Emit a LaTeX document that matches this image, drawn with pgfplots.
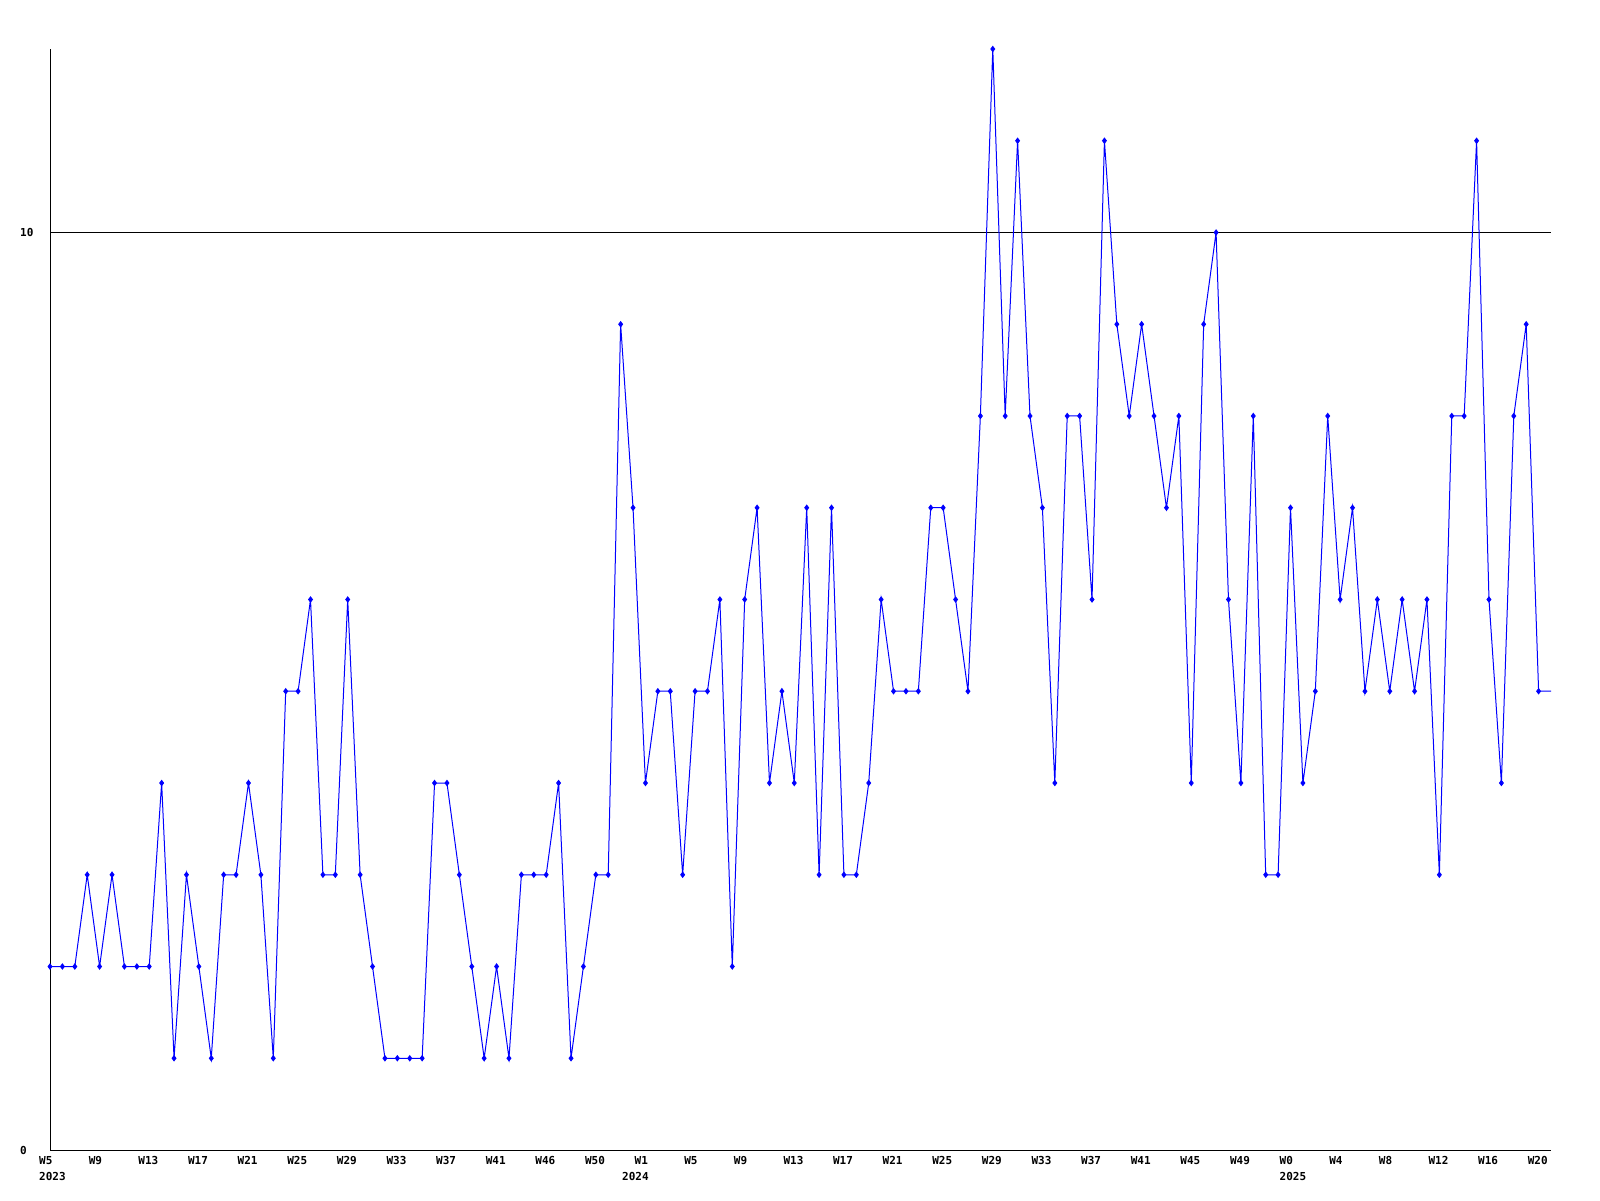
\documentclass[border=0pt]{standalone}
\usepackage{fontspec}
\usepackage{pgfplots}
\pgfplotsset{compat=1.18}
\newfontfamily\labelfont{DejaVu Sans Mono}
\begin{document}
\begin{tikzpicture}
\begin{axis}[
  at={(50pt,50pt)}, anchor=south west,
  scale only axis, width=1501pt, height=1101pt,
  xmin=0, xmax=121, ymin=0, ymax=12,
  axis lines*=left,
  axis line style={black, line width=1pt},
  major tick length=0pt,
  tick style={draw=none},
  xtick={0,4,...,120},
  xticklabels={W5,W9,W13,W17,W21,W25,W29,W33,W37,W41,W46,W50,W1,W5,W9,W13,W17,W21,W25,W29,W33,W37,W41,W45,W49,W0,W4,W8,W12,W16,W20},
  ytick={0,10}, yticklabels={0,10},
  ticklabel style={font=\labelfont\bfseries\fontsize{11}{11}\selectfont, inner sep=0pt},
  xticklabel style={anchor=north west, xshift=-11pt, yshift=-6pt},
  yticklabel style={anchor=west, xshift=-30pt},
  extra x ticks={0,47,100},
  extra x tick labels={2023,2024,2025},
  extra x tick style={xticklabel style={yshift=-16pt}},
  clip=false,
]
\addplot[black, line width=0.8pt, forget plot] coordinates {(0,10) (121,10)};
\addplot[blue, line width=1pt, mark=diamond*, mark size=2.5pt, mark options={solid, fill=blue}, mark indices={1,...,121}] coordinates {
(0,2) (1,2) (2,2) (3,3) (4,2) (5,3) (6,2) (7,2) (8,2) (9,4)
(10,1) (11,3) (12,2) (13,1) (14,3) (15,3) (16,4) (17,3) (18,1) (19,5)
(20,5) (21,6) (22,3) (23,3) (24,6) (25,3) (26,2) (27,1) (28,1) (29,1)
(30,1) (31,4) (32,4) (33,3) (34,2) (35,1) (36,2) (37,1) (38,3) (39,3)
(40,3) (41,4) (42,1) (43,2) (44,3) (45,3) (46,9) (47,7) (48,4) (49,5)
(50,5) (51,3) (52,5) (53,5) (54,6) (55,2) (56,6) (57,7) (58,4) (59,5)
(60,4) (61,7) (62,3) (63,7) (64,3) (65,3) (66,4) (67,6) (68,5) (69,5)
(70,5) (71,7) (72,7) (73,6) (74,5) (75,8) (76,12) (77,8) (78,11) (79,8)
(80,7) (81,4) (82,8) (83,8) (84,6) (85,11) (86,9) (87,8) (88,9) (89,8)
(90,7) (91,8) (92,4) (93,9) (94,10) (95,6) (96,4) (97,8) (98,3) (99,3)
(100,7) (101,4) (102,5) (103,8) (104,6) (105,7) (106,5) (107,6) (108,5) (109,6)
(110,5) (111,6) (112,3) (113,8) (114,8) (115,11) (116,6) (117,4) (118,8) (119,9)
(120,5) (121,5)
};
\end{axis}
\pgfresetboundingbox
\path (0,0) rectangle (1600pt,1200pt);
\end{tikzpicture}
\end{document}
